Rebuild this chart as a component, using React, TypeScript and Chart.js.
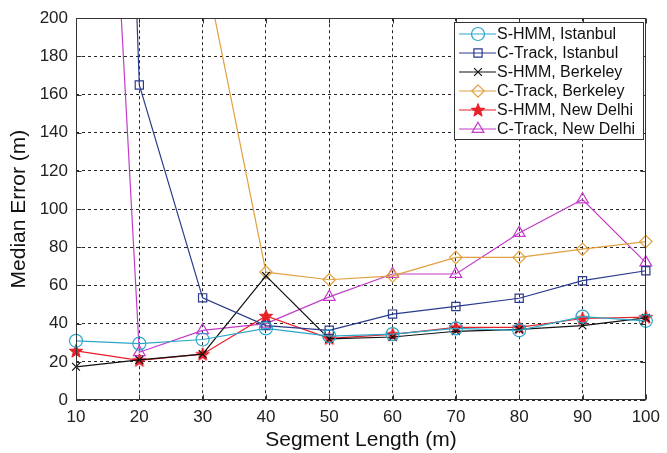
import React, { useEffect, useRef } from 'react';
import { Chart, registerables } from 'chart.js';

Chart.register(...registerables);

const segmentLengths = [10, 20, 30, 40, 50, 60, 70, 80, 90, 100];
const shmmIstanbul = [31, 29.5, 31.7, 37.5, 33.5, 34.5, 37.5, 36.5, 43.7, 41.5];
const ctrackIstanbul = [1100, 165, 53.5, 39, 36.5, 45, 49, 53.3, 62.5, 67.7];
const shmmBerkeley = [17.4, 21, 24, 65, 32, 33, 36, 37, 39, 43];
const ctrackBerkeley = [420, 330, 232, 67, 63, 65, 74.7, 74.7, 79, 83];
const shmmNewDelhi = [25.7, 20.8, 24, 44, 32.3, 34.4, 38, 38, 42.7, 43.4];
const ctrackNewDelhi = [640, 25, 36.5, 40, 54, 66, 66, 87.5, 105, 72];

const seriesLabels = [
  'S-HMM, Istanbul',
  'C-Track, Istanbul',
  'S-HMM, Berkeley',
  'C-Track, Berkeley',
  'S-HMM, New Delhi',
  'C-Track, New Delhi',
];
const seriesColors = ['#2aa7c9', '#2a3a8c', '#111111', '#e0a040', '#e8202a', '#c23cc8'];
const seriesMarkers = ['circle', 'rect', 'crossRot', 'rectRot', 'star5', 'triangle'];
const seriesRadius = [6.5, 5.8, 5.5, 6.2, 7, 6.8];
const xTickValues = [10, 20, 30, 40, 50, 60, 70, 80, 90, 100];
const yTickValues = [0, 20, 40, 60, 80, 100, 120, 140, 160, 180, 200];

const FONT = "'Liberation Sans', Arial, sans-serif";

function makeStar(color: string, r: number): HTMLCanvasElement {
  const size = Math.ceil(r * 2 + 4);
  const c = document.createElement('canvas');
  c.width = size;
  c.height = size;
  const g = c.getContext('2d')!;
  const cx = size / 2;
  const cy = size / 2 + 0.5;
  g.beginPath();
  for (let i = 0; i < 10; i++) {
    const rad = i % 2 === 0 ? r : r * 0.42;
    const a = -Math.PI / 2 + (i * Math.PI) / 5;
    const x = cx + Math.cos(a) * rad;
    const y = cy + Math.sin(a) * rad;
    if (i === 0) g.moveTo(x, y);
    else g.lineTo(x, y);
  }
  g.closePath();
  g.fillStyle = color;
  g.fill();
  g.strokeStyle = color;
  g.lineWidth = 1;
  g.stroke();
  return c;
}

function drawMarker(ctx: CanvasRenderingContext2D, style: string, x: number, y: number, r: number, color: string, star: HTMLCanvasElement) {
  ctx.save();
  ctx.strokeStyle = color;
  ctx.lineWidth = 1.2;
  ctx.beginPath();
  if (style === 'circle') {
    ctx.arc(x, y, r, 0, Math.PI * 2);
    ctx.stroke();
  } else if (style === 'rect') {
    const s = r * Math.SQRT1_2;
    ctx.rect(x - s, y - s, 2 * s, 2 * s);
    ctx.stroke();
  } else if (style === 'crossRot') {
    const s = r * Math.SQRT1_2;
    ctx.moveTo(x - s, y - s);
    ctx.lineTo(x + s, y + s);
    ctx.moveTo(x - s, y + s);
    ctx.lineTo(x + s, y - s);
    ctx.stroke();
  } else if (style === 'rectRot') {
    ctx.moveTo(x, y - r);
    ctx.lineTo(x + r, y);
    ctx.lineTo(x, y + r);
    ctx.lineTo(x - r, y);
    ctx.closePath();
    ctx.stroke();
  } else if (style === 'triangle') {
    const h = r * 1.5;
    const w = r * Math.sqrt(3) / 2;
    ctx.moveTo(x, y - r);
    ctx.lineTo(x + w, y - r + h);
    ctx.lineTo(x - w, y - r + h);
    ctx.closePath();
    ctx.stroke();
  } else if (style === 'star5') {
    ctx.drawImage(star, x - star.width / 2, y - star.height / 2);
  }
  ctx.restore();
}

export default function App() {
  const ref = useRef<HTMLCanvasElement | null>(null);

  useEffect(() => {
    const canvas = ref.current;
    if (!canvas) return;
    const star = makeStar(seriesColors[4], seriesRadius[4]);
    const seriesValues = [shmmIstanbul, ctrackIstanbul, shmmBerkeley, ctrackBerkeley, shmmNewDelhi, ctrackNewDelhi];

    const datasets = seriesLabels.map((label, i) => ({
      label,
      data: segmentLengths.map((x, j) => ({ x, y: seriesValues[i][j] })),
      borderColor: seriesColors[i],
      backgroundColor: seriesColors[i],
      borderWidth: 1.2,
      pointStyle: seriesMarkers[i] === 'star5' ? star : (seriesMarkers[i] as any),
      pointRadius: seriesRadius[i],
      pointBorderWidth: 1.2,
      pointBorderColor: seriesColors[i],
      pointBackgroundColor: 'rgba(0,0,0,0)',
      tension: 0,
      clip: { left: 9, right: 9, top: 0, bottom: 9 },
    }));

    const framePlugin = {
      id: 'frame',
      afterDraw(chart: any) {
        const { ctx, chartArea, scales } = chart;
        const { left, right, top, bottom } = chartArea;
        ctx.save();
        ctx.strokeStyle = '#333';
        ctx.lineWidth = 1;
        const L = Math.round(left) + 0.5;
        const R = Math.round(right) - 0.5;
        const T = Math.round(top) + 0.5;
        const B = Math.round(bottom) - 0.5;
        ctx.strokeRect(L, T, R - L, B - T);
        ctx.beginPath();
        for (const v of xTickValues) {
          const px = Math.round(scales.x.getPixelForValue(v)) + 0.5;
          ctx.moveTo(px, B);
          ctx.lineTo(px, B - 5);
          ctx.moveTo(px, T);
          ctx.lineTo(px, T + 5);
        }
        for (const v of yTickValues) {
          const py = Math.round(scales.y.getPixelForValue(v)) + 0.5;
          ctx.moveTo(L, py);
          ctx.lineTo(L + 5, py);
          ctx.moveTo(R, py);
          ctx.lineTo(R - 5, py);
        }
        ctx.stroke();

        // legend
        const bx = 454.5, by = 22.5, bw = 189, bh = 117;
        ctx.fillStyle = '#fff';
        ctx.fillRect(bx, by, bw, bh);
        ctx.strokeStyle = '#333';
        ctx.strokeRect(bx, by, bw, bh);
        ctx.font = `16px ${FONT}`;
        ctx.textBaseline = 'middle';
        ctx.textAlign = 'left';
        seriesLabels.forEach((label, i) => {
          const y = 34 + i * 19;
          ctx.strokeStyle = seriesColors[i];
          ctx.lineWidth = 1.2;
          ctx.beginPath();
          ctx.moveTo(459, y);
          ctx.lineTo(496, y);
          ctx.stroke();
          drawMarker(ctx, seriesMarkers[i], 478, y, seriesRadius[i], seriesColors[i], star);
          ctx.fillStyle = '#111';
          ctx.fillText(label, 497, y + 1);
        });
        ctx.restore();
      },
    };

    const chart = new Chart(canvas, {
      type: 'line',
      data: { datasets },
      plugins: [framePlugin],
      options: {
        responsive: false,
        animation: false,
        layout: { padding: { top: 16, right: 17, left: 0, bottom: 0 } },
        plugins: { legend: { display: false }, tooltip: { enabled: false } },
        scales: {
          x: {
            type: 'linear',
            min: 10,
            max: 100,
            afterFit: (s: any) => { s.height = 53; },
            afterBuildTicks: (s: any) => { s.ticks = xTickValues.map((v) => ({ value: v })); },
            ticks: { color: '#222', font: { family: FONT, size: 17 }, padding: 7, maxRotation: 0 },
            grid: { color: 'rgba(0,0,0,0.85)', lineWidth: 1, drawTicks: false },
            border: { display: false, dash: [3, 3] },
            title: { display: true, text: 'Segment Length (m)', color: '#111', font: { family: FONT, size: 21 }, padding: { top: 0, bottom: 0 } },
          },
          y: {
            type: 'linear',
            min: 0,
            max: 200,
            afterFit: (s: any) => { s.width = 76; },
            afterBuildTicks: (s: any) => { s.ticks = yTickValues.map((v) => ({ value: v })); },
            ticks: { color: '#222', font: { family: FONT, size: 17 }, padding: 8 },
            grid: { color: 'rgba(0,0,0,0.85)', lineWidth: 1, drawTicks: false },
            border: { display: false, dash: [3, 3] },
            title: { display: true, text: 'Median Error (m)', color: '#111', font: { family: FONT, size: 21 }, padding: { top: 7, bottom: 0 } },
          },
        },
      },
    });
    return () => chart.destroy();
  }, []);

  return (
    <div style={{ position: 'absolute', left: 0, top: 0, width: 667, height: 453, background: '#fff' }}>
      <canvas ref={ref} width={667} height={453} style={{ display: 'block', width: 667, height: 453 }} />
    </div>
  );
}
